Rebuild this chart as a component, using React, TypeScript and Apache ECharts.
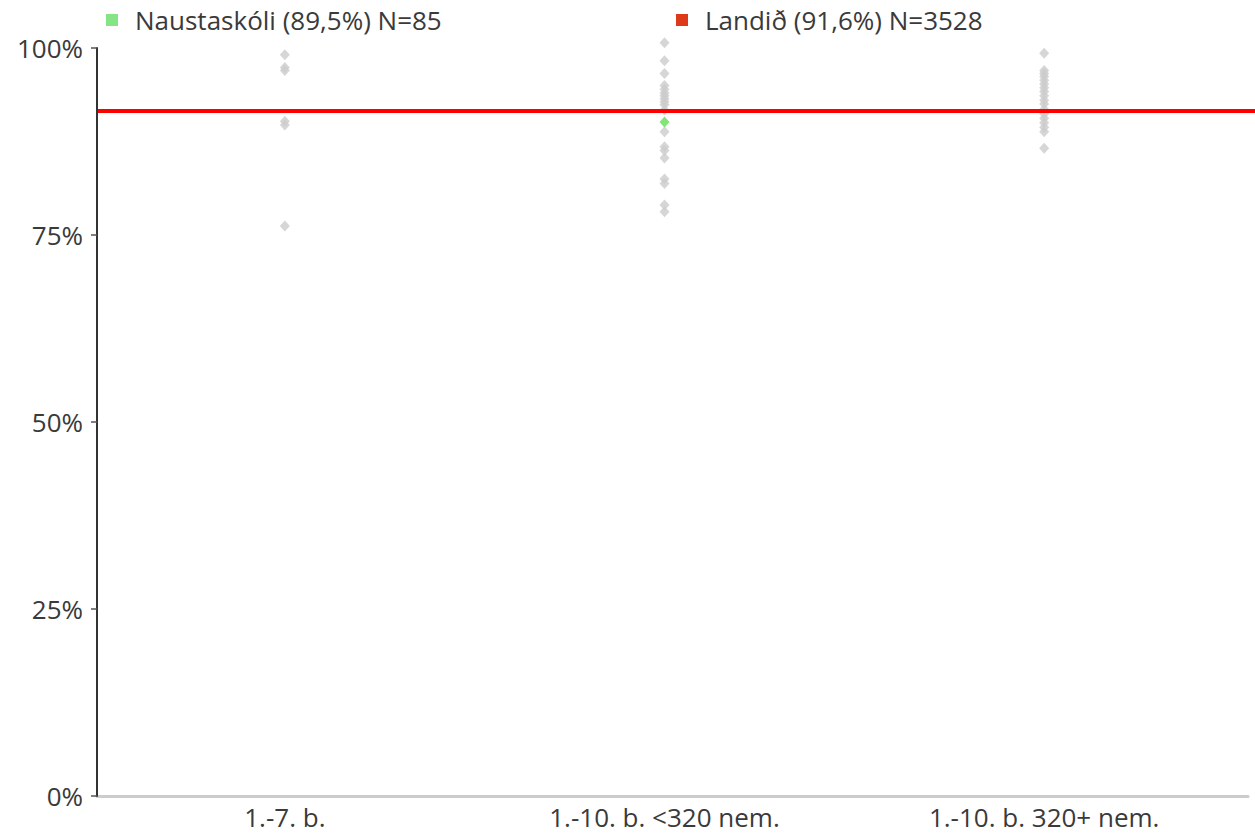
import React, { useEffect, useRef } from "react";
import * as echarts from "echarts";

const categories = ["1.-7. b.", "1.-10. b. <320 nem.", "1.-10. b. 320+ nem."];
const group1 = [99.1, 97.4, 97.0, 90.2, 89.7, 76.2];
const group2 = [100.7, 98.3, 96.6, 95.0, 94.5, 94.0, 93.6, 93.2, 92.8, 92.4, 91.7, 88.8, 86.8, 86.3, 85.3, 82.5, 81.9, 79.0, 78.1];
const group3 = [99.3, 97.0, 96.6, 96.2, 95.7, 95.2, 94.7, 94.2, 93.6, 93.0, 92.5, 91.8, 91.2, 90.6, 90.0, 89.4, 88.8, 86.6];
const schoolName = "Naustaskóli (89,5%) N=85";
const schoolCategory = 1;
const schoolValue = 90.1;
const nationalName = "Landið (91,6%) N=3528";
const nationalValue = 91.6;
const yTicks = [0, 25, 50, 75, 100];

const FONT = "'Open Sans', 'Noto Sans', sans-serif";
const TEXT = "#3a3a3a";
const FS = 26;

export default function App() {
  const ref = useRef<HTMLDivElement>(null);
  useEffect(() => {
    if (!ref.current) return;
    const chart = echarts.init(ref.current, undefined, { renderer: "svg" });
    const greyData: [number, number][] = [];
    [group1, group2, group3].forEach((g, i) => g.forEach((v) => greyData.push([i, v])));
    const top = 48;
    const bottom = 38;
    const legendText = { fontSize: FS, color: TEXT, fontFamily: FONT, padding: [0, 0, 0, 12] };
    chart.setOption({
      animation: false,
      textStyle: { fontFamily: FONT },
      legend: [
        {
          left: 106,
          top: 7,
          padding: 0,
          icon: "rect",
          itemWidth: 12,
          itemHeight: 12,
          selectedMode: false,
          textStyle: legendText,
          data: [{ name: schoolName, itemStyle: { color: "#66dd66" } }],
        },
        {
          left: 676,
          top: 7,
          padding: 0,
          icon: "rect",
          itemWidth: 12,
          itemHeight: 12,
          selectedMode: false,
          textStyle: legendText,
          data: [{ name: nationalName, itemStyle: { color: "#dd3a1a" } }],
        },
      ],
      grid: [
        { left: 95, right: 21, top, bottom },
        { left: 97, right: 7, top, bottom },
        { left: 98, right: 0, top, bottom },
      ],
      xAxis: [
        {
          type: "category",
          gridIndex: 0,
          data: categories,
          axisLine: { show: false },
          axisTick: { show: false },
          axisLabel: { fontSize: FS, lineHeight: 26, color: TEXT, margin: 8, fontFamily: FONT },
          splitLine: { show: false },
        },
        {
          type: "value",
          gridIndex: 1,
          min: 0,
          max: 1,
          axisLine: { show: true, lineStyle: { color: "#cccccc", width: 3 } },
          axisTick: { show: false },
          axisLabel: { show: false },
          splitLine: { show: false },
          z: 1,
        },
        { type: "value", gridIndex: 2, min: 0, max: 1, show: false },
      ],
      yAxis: [
        {
          type: "value",
          gridIndex: 1,
          min: 0,
          max: 100,
          interval: 25,
          axisLine: { show: true, lineStyle: { color: "#333333", width: 2 } },
          axisTick: { show: true, length: 6, lineStyle: { color: "#555555", width: 1.5 } },
          axisLabel: {
            fontSize: FS,
            color: TEXT,
            margin: 14,
            fontFamily: FONT,
            formatter: (v: number) => (yTicks.includes(v) ? v + "%" : ""),
          },
          splitLine: { show: false },
          z: 5,
        },
        { type: "value", gridIndex: 0, min: 0, max: 100, show: false },
        { type: "value", gridIndex: 2, min: 0, max: 100, show: false },
      ],
      series: [
        {
          name: nationalName,
          type: "line",
          xAxisIndex: 2,
          yAxisIndex: 2,
          data: [[0, nationalValue]],
          symbol: "none",
          lineStyle: { color: "#ff0000", width: 4 },
          itemStyle: { color: "#dd3a1a" },
          z: 1,
          markLine: {
            silent: true,
            symbol: "none",
            label: { show: false },
            lineStyle: { color: "#ff0000", width: 4, type: "solid" },
            data: [{ yAxis: nationalValue }],
          },
        },
        {
          name: "others",
          type: "scatter",
          xAxisIndex: 0,
          yAxisIndex: 1,
          data: greyData,
          symbol: "diamond",
          symbolSize: [10, 11],
          clip: false,
          itemStyle: { color: "#cccccc" },
          z: 3,
        },
        {
          name: schoolName,
          type: "scatter",
          xAxisIndex: 0,
          yAxisIndex: 1,
          data: [[schoolCategory, schoolValue]],
          symbol: "diamond",
          symbolSize: [10, 11],
          clip: false,
          itemStyle: { color: "#66dd55" },
          z: 4,
        },
      ],
    });
    return () => chart.dispose();
  }, []);
  return (
    <div
      ref={ref}
      style={{ position: "fixed", left: 0, top: 0, width: 1255, height: 834, background: "#ffffff" }}
    />
  );
}
